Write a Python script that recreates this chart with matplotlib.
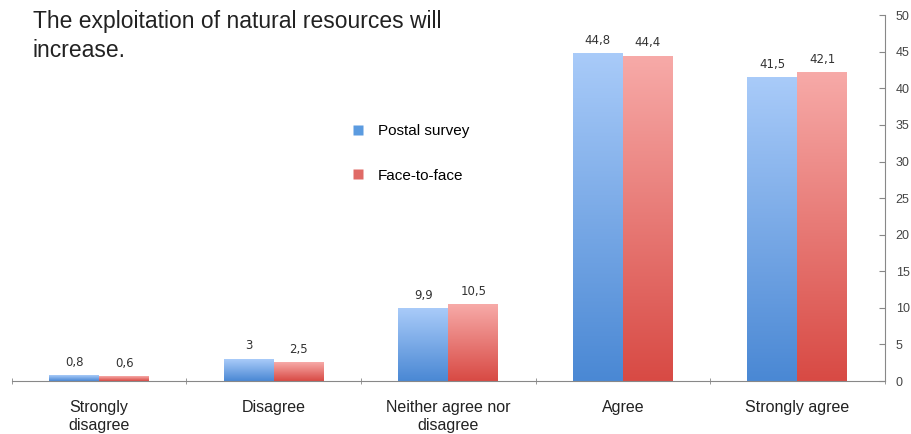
import numpy as np
import matplotlib
matplotlib.use('Agg')
import matplotlib.pyplot as plt
from matplotlib.colors import LinearSegmentedColormap
from matplotlib.lines import Line2D

categories = ['Strongly\ndisagree', 'Disagree', 'Neither agree nor\ndisagree',
              'Agree', 'Strongly agree']
postal = [0.8, 3, 9.9, 44.8, 41.5]
face = [0.6, 2.5, 10.5, 44.4, 42.1]
postal_lbl = ['0,8', '3', '9,9', '44,8', '41,5']
face_lbl = ['0,6', '2,5', '10,5', '44,4', '42,1']
series_names = ['Postal survey', 'Face-to-face']

blue_cm = LinearSegmentedColormap.from_list('b', ['#4a88d4', '#a9cbf9'])
red_cm = LinearSegmentedColormap.from_list('r', ['#d84a44', '#f7aaa8'])

plt.rcParams['font.family'] = ['Liberation Sans', 'DejaVu Sans']

fig = plt.figure(figsize=(9.12, 4.34), dpi=100)
ax = fig.add_axes([0.013, 0.122, 0.957, 0.843])

w = 0.286
grad = np.linspace(0, 1, 256).reshape(-1, 1)


def gbar(x0, h, cmap):
    ax.imshow(grad, cmap=cmap, origin='lower', aspect='auto',
              extent=[x0, x0 + w, 0, h], zorder=2)


for i in range(len(categories)):
    gbar(i - w, postal[i], blue_cm)
    gbar(i, face[i], red_cm)
    ax.text(i - w / 2, postal[i] + 1.8, postal_lbl[i], ha='center',
            va='center', fontsize=8.5, color='#333333', family='DejaVu Sans')
    ax.text(i + w / 2, face[i] + 1.8, face_lbl[i], ha='center',
            va='center', fontsize=8.5, color='#333333', family='DejaVu Sans')

ax.set_xlim(-0.5, len(categories) - 0.5)
ax.set_ylim(0, 50)

for s in ['left', 'top']:
    ax.spines[s].set_visible(False)
ax.spines['right'].set_color('#888888')
ax.spines['bottom'].set_color('#888888')

ax.yaxis.tick_right()
ax.set_yticks(np.arange(0, 51, 5))
ax.tick_params(axis='y', direction='in', length=4, color='#888888',
               labelsize=9, labelcolor='#444444', pad=8)

ax.set_xticks(np.arange(len(categories)))
ax.set_xticklabels(categories, fontsize=11.5, color='#222222', linespacing=1.25)
ax.tick_params(axis='x', length=0, pad=14)
ax.set_xticks(np.arange(-0.5, len(categories)), minor=True)
ax.tick_params(axis='x', which='minor', length=4, color='#888888',
               direction='inout')

fig.text(0.036, 0.978, 'The exploitation of natural resources will\nincrease.',
         fontsize=16.5, color='#222222', va='top', ha='left', linespacing=1.35)

handles = [Line2D([], [], ls='none', marker='s', markersize=7,
                  markerfacecolor='#5b9be0', markeredgecolor='none'),
           Line2D([], [], ls='none', marker='s', markersize=7,
                  markerfacecolor='#e06a66', markeredgecolor='none')]
ax.legend(handles, series_names, loc='upper left',
          bbox_to_anchor=(0.372, 0.74), frameon=False, fontsize=11,
          labelspacing=2.0, handletextpad=0.8, handlelength=1.0)

fig.savefig('out.png', dpi=100)
